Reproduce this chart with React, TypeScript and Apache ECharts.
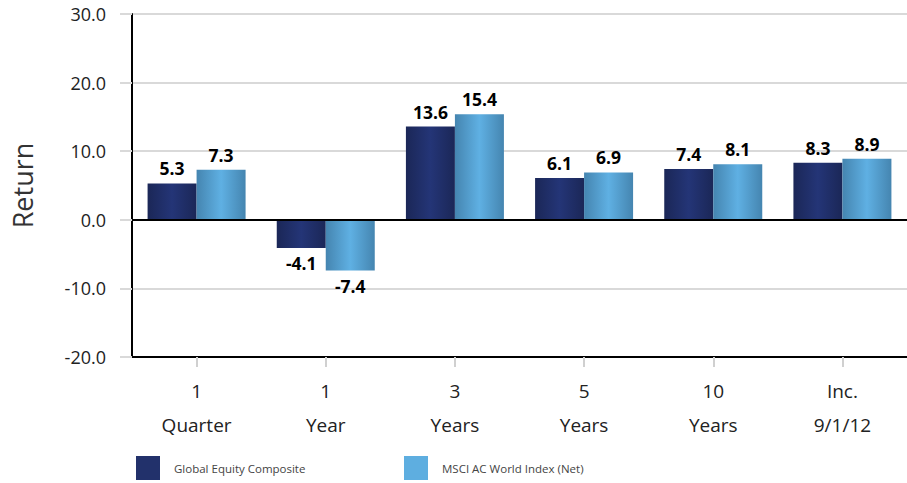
import React, { useEffect, useRef } from "react";
import * as echarts from "echarts";

const categories = ["1\nQuarter", "1\nYear", "3\nYears", "5\nYears", "10\nYears", "Inc.\n9/1/12"];
const compositeValues = [5.3, -4.1, 13.6, 6.1, 7.4, 8.3];
const indexValues = [7.3, -7.4, 15.4, 6.9, 8.1, 8.9];
const seriesNames = ["Global Equity Composite", "MSCI AC World Index (Net)"];

const FONT = "'Open Sans', sans-serif";

function grad(edge: string, mid: string) {
  return new echarts.graphic.LinearGradient(0, 0, 1, 0, [
    { offset: 0, color: edge },
    { offset: 0.5, color: mid },
    { offset: 1, color: edge },
  ]);
}

function toData(vals: number[]) {
  return vals.map((v) => ({
    value: v,
    label: { position: v < 0 ? "bottom" : "top" },
  }));
}

export default function App() {
  const ref = useRef<HTMLDivElement>(null);
  useEffect(() => {
    if (!ref.current) return;
    const chart = echarts.init(ref.current, null, { renderer: "svg" });
    const barLabel = {
      show: true,
      distance: 6,
      fontFamily: FONT,
      fontWeight: "bold",
      fontSize: 17.5,
      color: "#000",
      formatter: (p: any) => p.value.toFixed(1),
    };
    const legendText = { fontFamily: FONT, fontSize: 11.5, color: "#444", padding: [0, 0, 0, 9] };
    chart.setOption({
      animation: false,
      grid: { left: 132, right: 0, top: 14, bottom: 126, containLabel: false, outerBoundsMode: "none" },
      legend: [
        {
          left: 136,
          top: 456,
          padding: 0,
          itemWidth: 24,
          itemHeight: 24,
          icon: "rect",
          textStyle: legendText,
          data: [{ name: seriesNames[0], itemStyle: { color: "#22316b" } }],
        },
        {
          left: 404,
          top: 456,
          padding: 0,
          itemWidth: 24,
          itemHeight: 24,
          icon: "rect",
          textStyle: legendText,
          data: [{ name: seriesNames[1], itemStyle: { color: "#5eaee0" } }],
        },
      ],
      xAxis: {
        type: "category",
        data: categories,
        axisLine: { onZero: false, lineStyle: { color: "#000", width: 2 } },
        axisTick: { show: true, alignWithLabel: true, length: 10, lineStyle: { color: "#d0d0d0", width: 2 } },
        axisLabel: { fontFamily: FONT, fontSize: 19, color: "#222", lineHeight: 34, margin: 17 },
      },
      yAxis: {
        type: "value",
        min: -20,
        max: 30,
        interval: 10,
        name: "Return",
        nameLocation: "middle",
        nameGap: 96,
        nameTextStyle: { fontFamily: FONT, fontSize: 27, color: "#333" },
        axisLine: { show: true, lineStyle: { color: "#000", width: 2 } },
        axisTick: { show: true, length: 12, lineStyle: { color: "#d9d9d9", width: 2 } },
        axisLabel: {
          fontFamily: FONT,
          fontSize: 18,
          color: "#222",
          margin: 26,
          formatter: (v: number) => v.toFixed(1),
        },
        splitLine: { show: true, lineStyle: { color: "#d9d9d9", width: 2 } },
      },
      series: [
        {
          name: seriesNames[0],
          type: "bar",
          data: toData(compositeValues),
          barWidth: 49,
          barGap: "0%",
          itemStyle: { color: grad("#1b2757", "#243577") },
          label: barLabel,
          markLine: {
            silent: true,
            symbol: "none",
            label: { show: false },
            lineStyle: { color: "#000", width: 2, type: "solid" },
            data: [{ yAxis: 0 }],
          },
        },
        {
          name: seriesNames[1],
          type: "bar",
          data: toData(indexValues),
          barWidth: 49,
          barGap: "0%",
          itemStyle: { color: grad("#4585b0", "#5fb0e3") },
          label: barLabel,
        },
      ],
    });
    return () => chart.dispose();
  }, []);
  return (
    <div
      ref={ref}
      style={{ position: "fixed", left: 0, top: 0, width: 907, height: 483, background: "#fff" }}
    />
  );
}
